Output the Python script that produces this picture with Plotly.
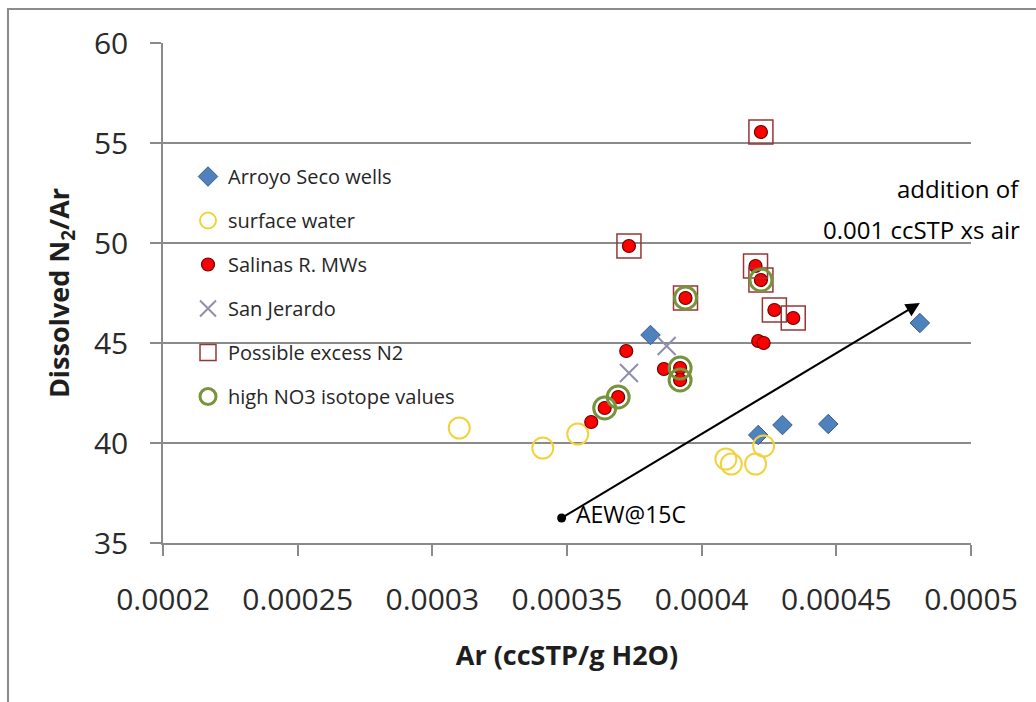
import plotly.graph_objects as go

# Arroyo Seco wells
arroyo_ar = [0.000381, 0.000421, 0.000430, 0.000447, 0.000481]
arroyo_n2ar = [45.4, 40.4, 40.9, 40.95, 46.0]

# surface water
surface_ar = [0.000310, 0.000341, 0.000354, 0.000409, 0.000411, 0.000420, 0.000423]
surface_n2ar = [40.75, 39.75, 40.45, 39.2, 38.95, 38.95, 39.85]

# Salinas R. monitoring wells
salinas_ar = [0.000422, 0.000373, 0.000394, 0.000420, 0.000422, 0.000427, 0.000434,
              0.000421, 0.000423, 0.000372, 0.000386, 0.000392, 0.000392, 0.000369,
              0.000364, 0.000359]
salinas_n2ar = [55.55, 49.85, 47.25, 48.85, 48.15, 46.65, 46.25,
                45.1, 45.0, 44.6, 43.7, 43.75, 43.15, 42.3,
                41.75, 41.05]

# San Jerardo
jerardo_ar = [0.000387, 0.000373]
jerardo_n2ar = [44.85, 43.5]

# Possible excess N2
excess_ar = [0.000422, 0.000373, 0.000394, 0.000420, 0.000422, 0.000427, 0.000434]
excess_n2ar = [55.55, 49.85, 47.25, 48.85, 48.15, 46.65, 46.25]

# high NO3 isotope values
no3_ar = [0.000394, 0.000422, 0.000392, 0.000392, 0.000369, 0.000364]
no3_n2ar = [47.25, 48.15, 43.75, 43.15, 42.3, 41.75]

# air-equilibrated water at 15 C and the excess-air vector end
aew_ar, aew_n2ar = 0.000348, 36.25
xs_air_ar, xs_air_n2ar = 0.000481, 47.0

x_ticks = [0.0002, 0.00025, 0.0003, 0.00035, 0.0004, 0.00045, 0.0005]
x_tick_text = ["0.0002", "0.00025", "0.0003", "0.00035", "0.0004", "0.00045", "0.0005"]
y_ticks = [35, 40, 45, 50, 55, 60]

FONT = "Open Sans"
GRID = "#8a8a8a"

L, R, T, B = 163, 65, 43, 159
W, H = 1036, 702
pw, ph = W - L - R, H - T - B


def px(xp):
    return (xp - L) / pw


def py(yp):
    return 1 - (yp - T) / ph


fig = go.Figure()

fig.add_trace(go.Scatter(
    x=arroyo_ar, y=arroyo_n2ar, mode="markers", name="Arroyo Seco wells",
    legendgroup="a",
    marker=dict(symbol="diamond", size=15, color="#4F81BD",
                line=dict(color="#385D8A", width=1))))

fig.add_trace(go.Scatter(
    x=surface_ar, y=surface_n2ar, mode="markers", name="surface water",
    legendgroup="b",
    marker=dict(symbol="circle-open", size=21, color="#F2D23C",
                line=dict(color="#F2D23C", width=2))))

fig.add_trace(go.Scatter(
    x=salinas_ar, y=salinas_n2ar, mode="markers", name="Salinas R. MWs",
    legendgroup="c",
    marker=dict(symbol="circle", size=13, color="#FF0000",
                line=dict(color="#6E0000", width=1.2))))

fig.add_trace(go.Scatter(
    x=jerardo_ar, y=jerardo_n2ar, mode="markers", name="San Jerardo",
    legendgroup="d",
    marker=dict(symbol="x-thin-open", size=18, color="#8E8FAA",
                line=dict(color="#8E8FAA", width=2))))

fig.add_trace(go.Scatter(
    x=excess_ar, y=excess_n2ar, mode="markers", name="Possible excess N2",
    legendgroup="e",
    marker=dict(symbol="square-open", size=24, color="#953735",
                line=dict(color="#953735", width=1.5))))

fig.add_trace(go.Scatter(
    x=no3_ar, y=no3_n2ar, mode="markers", name="high NO3 isotope values",
    legendgroup="f",
    marker=dict(symbol="circle-open", size=22, color="#77933C",
                line=dict(color="#77933C", width=3))))

fig.add_trace(go.Scatter(
    x=[aew_ar], y=[aew_n2ar], mode="markers", showlegend=False,
    marker=dict(symbol="circle", size=9, color="black")))

# excess-air vector
fig.add_annotation(
    x=xs_air_ar, y=xs_air_n2ar, ax=aew_ar, ay=aew_n2ar,
    xref="x", yref="y", axref="x", ayref="y",
    text=" ", showarrow=True, arrowhead=2, arrowsize=1.4, arrowwidth=2,
    arrowcolor="black", standoff=0, startstandoff=0)

fig.add_annotation(
    x=aew_ar, y=aew_n2ar, xref="x", yref="y", text="AEW@15C",
    showarrow=False, xanchor="left", yanchor="middle", xshift=12, yshift=4,
    font=dict(family=FONT, size=23, color="black"))

fig.add_annotation(
    x=px(1022), y=py(188), xref="paper", yref="paper", text="addition of",
    showarrow=False, xanchor="right", yanchor="middle",
    font=dict(family=FONT, size=24, color="black"))
fig.add_annotation(
    x=px(1022), y=py(229), xref="paper", yref="paper", text="0.001 ccSTP xs air",
    showarrow=False, xanchor="right", yanchor="middle",
    font=dict(family=FONT, size=24, color="black"))

# chart frame
fig.add_shape(type="rect", xref="paper", yref="paper",
              x0=px(8), x1=px(1060), y0=py(730), y1=py(9),
              line=dict(color="#8c8c8c", width=2), layer="below")

fig.update_layout(
    width=W, height=H,
    margin=dict(l=L, r=R, t=T, b=B),
    paper_bgcolor="white", plot_bgcolor="white",
    font=dict(family=FONT, color="#333333"),
    showlegend=True,
    legend=dict(x=px(188), y=py(157), xanchor="left", yanchor="top",
                bgcolor="rgba(0,0,0,0)", borderwidth=0,
                font=dict(family=FONT, size=20, color="#262626"),
                tracegroupgap=15, itemsizing="trace"),
    xaxis=dict(range=[0.0002, 0.0005], tickvals=x_ticks, ticktext=x_tick_text,
               showgrid=False, zeroline=False,
               showline=True, linecolor=GRID, linewidth=1.5,
               ticks="outside", ticklen=11, tickcolor=GRID, tickwidth=1.5,
               ticklabelstandoff=18,
               tickfont=dict(family=FONT, size=30, color="#2a2a2a"),
               title=dict(text="<b>Ar (ccSTP/g H2O)</b>", standoff=28,
                          font=dict(family=FONT, size=27, color="#1e1e1e"))),
    yaxis=dict(range=[35, 60], tickvals=y_ticks,
               showgrid=True, gridcolor=GRID, gridwidth=1.5, zeroline=False,
               showline=True, linecolor=GRID, linewidth=1.5,
               ticks="outside", ticklen=11, tickcolor=GRID, tickwidth=1.5,
               ticklabelstandoff=16,
               tickfont=dict(family=FONT, size=30, color="#2a2a2a"),
               title=dict(text="<b>Dissolved N<sub>2</sub>/Ar</b>", standoff=16,
                          font=dict(family=FONT, size=27, color="#1e1e1e"))),
)

fig.write_html("out.html")
